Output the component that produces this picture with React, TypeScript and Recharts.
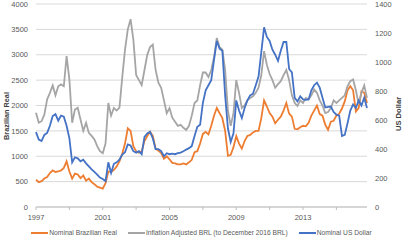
import React from 'react';
import { LineChart, Line, XAxis, YAxis, CartesianGrid } from 'recharts';

// bi-monthly samples starting Jan 1997
const START_YEAR = 1997;
const STEP_MONTHS = 2;

const nominalBrl = [
  540, 490, 510, 560, 590, 670, 720, 690, 700, 720, 770, 900, 700, 560, 660, 640, 570, 620, 520, 560,
  490, 450, 400, 380, 360, 470, 700, 690, 730, 800, 900, 1050, 1250, 1550, 1500, 1200, 1100, 1070, 1100, 1300,
  1400, 1480, 1400, 1150, 1110, 1060, 950, 1000, 940, 870, 860, 840, 840, 860, 840, 880, 930, 1080, 1100, 1250,
  1440, 1480, 1430, 1600, 1800, 1950, 1850, 1750, 1500, 1010, 1030, 1180, 1400, 1250, 1150, 1300, 1400, 1420, 1470, 1500,
  1500, 1750, 2100, 1980, 1850, 1780, 1650, 1720, 1780, 1900, 2050, 1840, 1780, 1540, 1530, 1570, 1600, 1590, 1660, 1800,
  1900, 2000, 1830, 1800, 1620, 1520, 1680, 1700, 1800, 1840, 1940, 2080, 2300, 2380, 2300, 1880, 1950, 2280, 2250, 2050,
];

const inflationAdjusted = [
  1855, 1660, 1690, 1820, 2120, 2250, 2395, 2200, 2380, 2415, 2380, 2975, 2515, 1660, 1920, 1955, 1725, 1500, 1660, 1460,
  1400, 1330, 1200, 1100, 1060, 1250, 2050, 1800, 1950, 1900, 1960, 2550, 3100, 3500, 3700, 3300, 2600, 2500, 2400, 2700,
  3000, 3150, 3200, 2700, 2450, 2350, 2100, 1850, 1950, 1760, 1680, 1600, 1620, 1560, 1520, 1600, 1800, 2050, 2100, 2400,
  2650, 2650, 2560, 2700, 2950, 3330, 3150, 3100, 2700, 1900, 1600, 1850, 2500, 2250, 1950, 2000, 2100, 2150, 2180, 2250,
  2350, 2600, 3070, 2800, 2620, 2500, 2350, 2420, 2480, 2600, 2700, 2500, 2200, 2050, 1990, 2100, 2050, 2150, 2120, 2200,
  2316, 2250, 2100, 2000, 1850, 1870, 1950, 2100, 2050, 2100, 2150, 2200, 2380, 2480, 2514, 2300, 2030, 2250, 2395, 2150,
];

const nominalUsd = [
  516, 465, 455, 497, 511, 560, 627, 640, 595, 630, 623, 560, 473, 308, 343, 336, 315, 326, 301, 280,
  259, 242, 224, 203, 193, 179, 308, 235, 298, 308, 326, 361, 378, 431, 424, 385, 375, 385, 364, 483,
  507, 518, 473, 399, 399, 385, 350, 371, 364, 368, 364, 371, 375, 385, 396, 406, 420, 490, 553, 567,
  718, 805, 840, 875, 1015, 1145, 1092, 1078, 770, 543, 448, 508, 735, 665, 613, 683, 735, 770, 781, 840,
  900, 1068, 1239, 1173, 1145, 1085, 1050, 1008, 1078, 1138, 1138, 952, 928, 753, 728, 763, 742, 739, 742, 805,
  840, 858, 823, 753, 686, 690, 693, 655, 637, 630, 490, 497, 578, 665, 707, 683, 735, 700, 753, 683,
];

const brlTicks = [0, 500, 1000, 1500, 2000, 2500, 3000, 3500, 4000];
const usdTicks = [0, 200, 400, 600, 800, 1000, 1200, 1400];
const yearTicks = [1997, 1999, 2001, 2003, 2005, 2007, 2009, 2011, 2013, 2015];
const labelledYears = [1997, 2001, 2005, 2009, 2013];

const seriesNames = [
  'Nominal Brazilian Real',
  'Inflation Adjusted BRL (to December 2016 BRL)',
  'Nominal US Dollar',
];
const colors = ['#ED7D31', '#A5A5A5', '#4472C4'];

const data = nominalBrl.map((v, i) => ({
  t: START_YEAR + (i * STEP_MONTHS) / 12,
  nominalBrl: v,
  inflationAdjusted: inflationAdjusted[i],
  nominalUsd: nominalUsd[i],
}));

const FONT = '"Liberation Sans", Arial, sans-serif';
const tickStyle = { fill: '#595959', fontSize: 7.5, fontFamily: FONT };

export default function App() {
  const lastT = data[data.length - 1].t;
  return (
    <div style={{ position: 'absolute', left: 0, top: 0, width: 403, height: 240, background: '#fff' }}>
      <LineChart width={403} height={227} data={data} margin={{ top: 4, right: 0, bottom: 0, left: 0 }}>
        <CartesianGrid yAxisId="brl" vertical={false} stroke="#d9d9d9" />
        <XAxis
          dataKey="t"
          type="number"
          domain={[START_YEAR, lastT]}
          ticks={yearTicks}
          tickFormatter={(v) => (labelledYears.includes(v) ? String(v) : '')}
          height={20}
          stroke="#bfbfbf"
          tickSize={3}
          tickMargin={5}
          tick={tickStyle}
          interval={0}
        />
        <YAxis
          yAxisId="brl"
          orientation="left"
          width={36}
          domain={[0, 4000]}
          ticks={brlTicks}
          axisLine={false}
          tickLine={false}
          tick={tickStyle}
          interval={0}
        />
        <YAxis
          yAxisId="usd"
          orientation="right"
          width={36}
          domain={[0, 1400]}
          ticks={usdTicks}
          axisLine={false}
          tickLine={false}
          tick={tickStyle}
          interval={0}
        />
        <Line yAxisId="brl" dataKey="nominalBrl" name={seriesNames[0]} stroke={colors[0]} strokeWidth={1.8} dot={false} isAnimationActive={false} />
        <Line yAxisId="brl" dataKey="inflationAdjusted" name={seriesNames[1]} stroke={colors[1]} strokeWidth={1.8} dot={false} isAnimationActive={false} />
        <Line yAxisId="usd" dataKey="nominalUsd" name={seriesNames[2]} stroke={colors[2]} strokeWidth={1.8} dot={false} isAnimationActive={false} />
      </LineChart>

      {/* axis titles */}
      <div style={{ position: 'absolute', left: 6, top: 116, transform: 'translate(-50%, -50%) rotate(-90deg)', fontFamily: FONT, fontSize: 7.3, fontWeight: 'bold', color: '#404040', whiteSpace: 'nowrap' }}>
        Brazilian Real
      </div>
      <div style={{ position: 'absolute', left: 398, top: 114, transform: 'translate(-50%, -50%) rotate(-90deg)', fontFamily: FONT, fontSize: 7.6, fontWeight: 'bold', color: '#404040', whiteSpace: 'nowrap' }}>
        US Dollar
      </div>

      {/* legend */}
      <div style={{ position: 'absolute', left: 0, top: 229, width: 403, display: 'flex', justifyContent: 'center', gap: 11, fontFamily: FONT, fontSize: 6.7, color: '#595959', whiteSpace: 'nowrap' }}>
        {seriesNames.map((name, i) => (
          <div key={name} style={{ display: 'flex', alignItems: 'center', gap: 1 }}>
            <span style={{ display: 'inline-block', width: 17, height: 2, background: colors[i] }} />
            <span>{name}</span>
          </div>
        ))}
      </div>
    </div>
  );
}
